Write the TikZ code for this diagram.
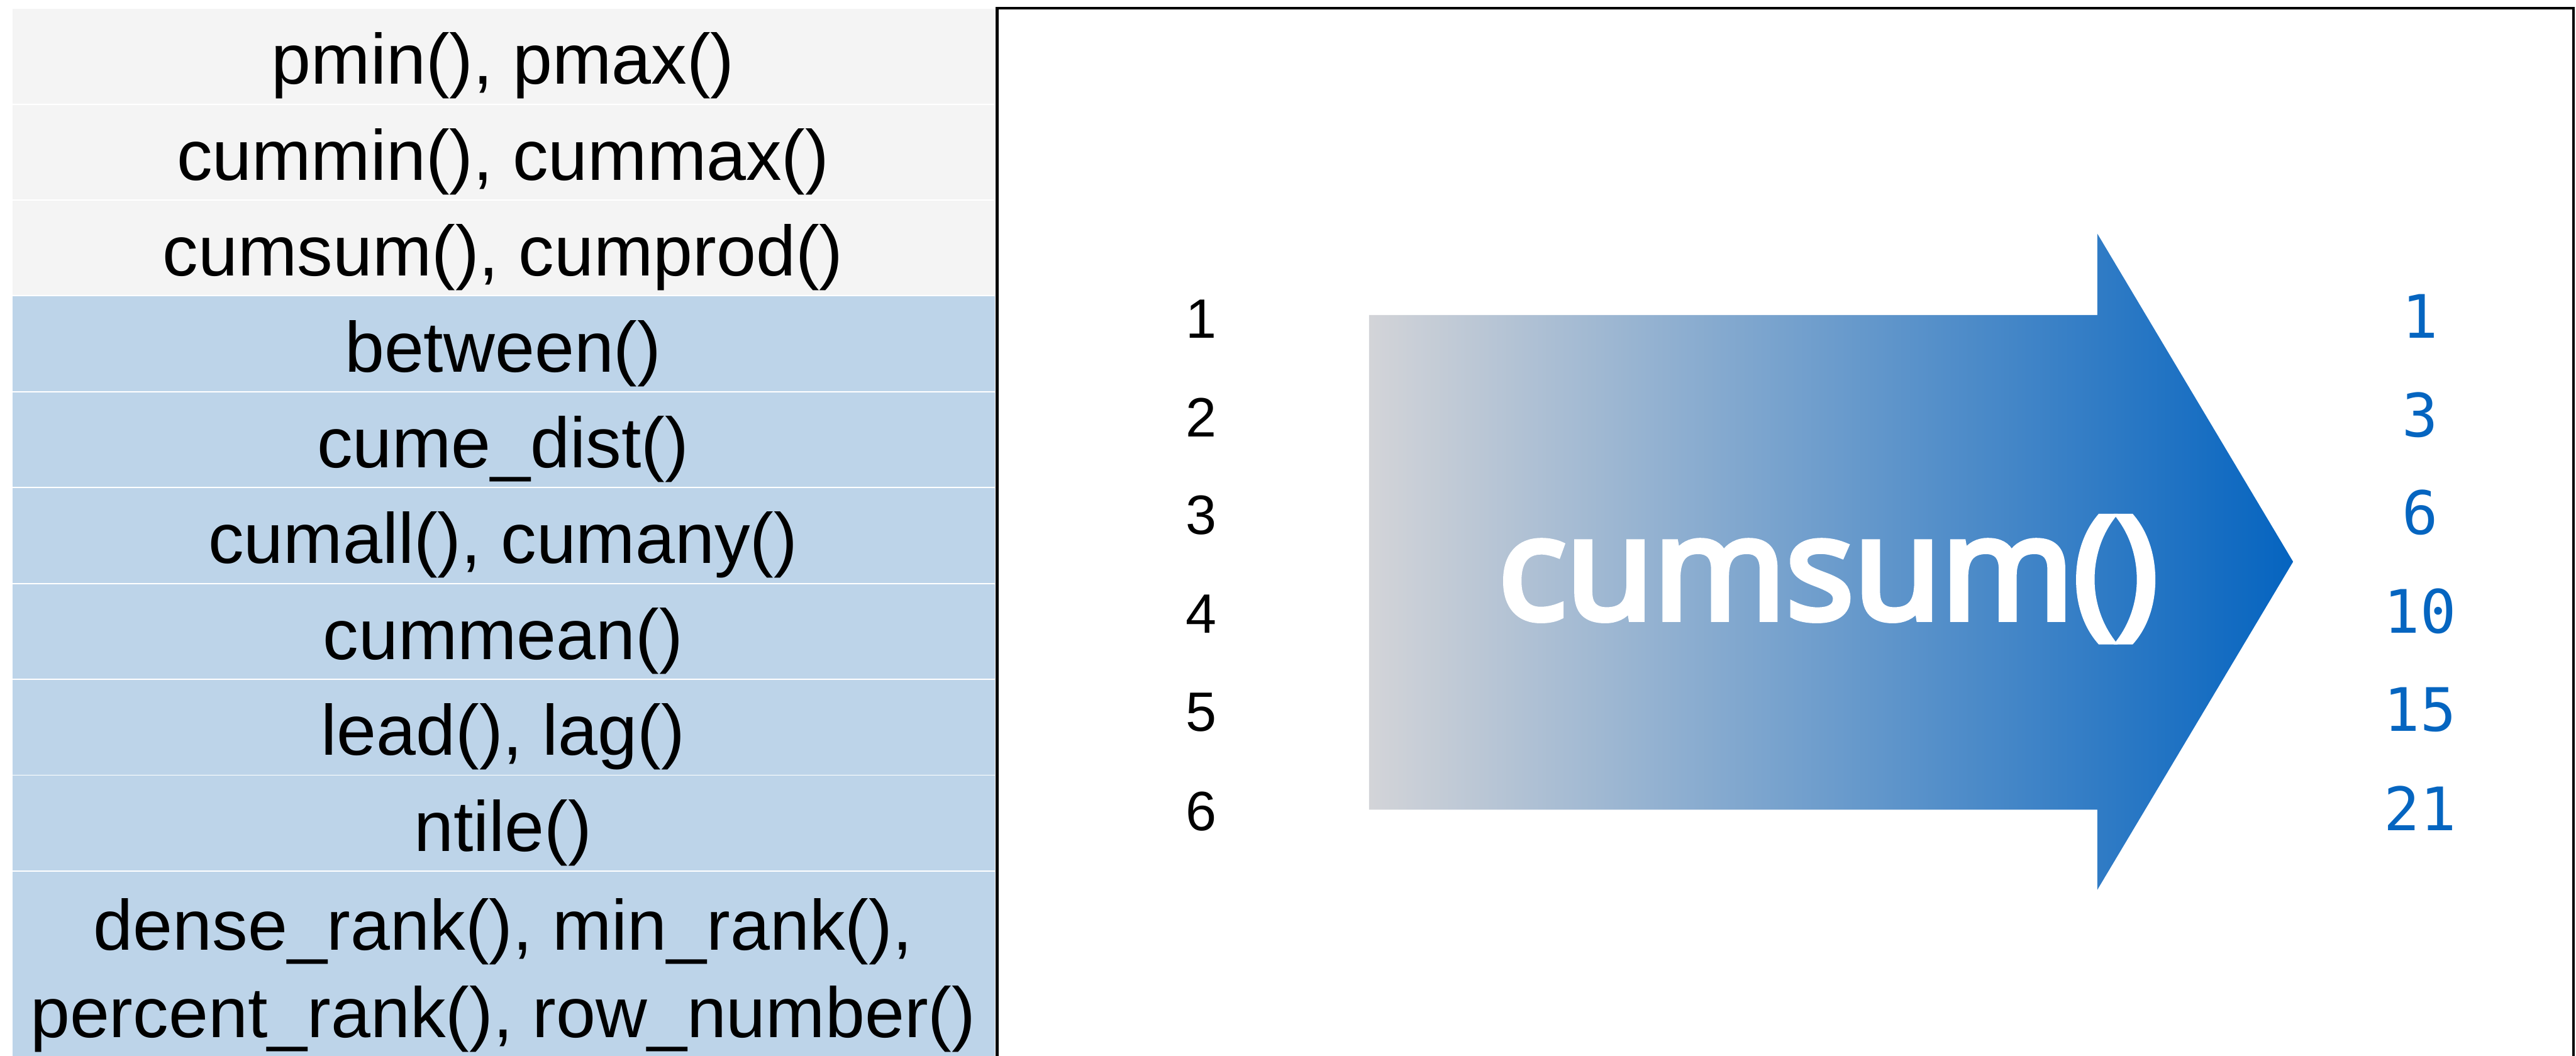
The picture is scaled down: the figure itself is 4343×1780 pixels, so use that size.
\documentclass[tikz,border=0pt]{standalone}
\usepackage{fontspec}
\setmainfont{Liberation Sans}
\newfontfamily\monofont{DejaVu Sans Mono}
\newfontfamily\titlefont{Open Sans}[FakeBold=4.5]
\definecolor{rowgray}{RGB}{244,244,244}
\definecolor{rowblue}{RGB}{189,212,233}
\definecolor{arrowgray}{RGB}{211,212,216}
\definecolor{arrowblue}{RGB}{5,100,192}
\definecolor{numblue}{RGB}{5,101,192}
\tikzset{
  rowbox/.style={draw=none, inner sep=0pt, minimum width=331.2pt, minimum height=31.92pt, anchor=north west},
  graybox/.style={rowbox, fill=rowgray},
  bluebox/.style={rowbox, fill=rowblue},
  fname/.style={anchor=base, inner sep=0pt, font=\fontsize{24}{29.4}\selectfont},
  innum/.style={anchor=base, inner sep=0pt, font=\fontsize{18.7}{22}\selectfont},
  outnum/.style={anchor=base, inner sep=0pt, text=numblue, font=\monofont\fontsize{20.2}{24}\selectfont},
  frameline/.style={line width=0.9pt, draw=black},
  bigtitle/.style={anchor=base, inner sep=0pt, text=white, font=\titlefont\fontsize{48}{55}\selectfont},
}
\begin{document}
\begin{tikzpicture}[x=0.2pt,y=-0.2pt]
\useasboundingbox (0,0) rectangle (4343,1780);
\clip (0,0) rectangle (4343,1780);
% table rows
\node[graybox] (r1) at (20,14) {};
\node[graybox] (r2) at (20,175.6) {};
\node[graybox] (r3) at (20,337.2) {};
\node[bluebox] (r4) at (20,498.8) {};
\node[bluebox] (r5) at (20,660.4) {};
\node[bluebox] (r6) at (20,822) {};
\node[bluebox] (r7) at (20,983.6) {};
\node[bluebox] (r8) at (20,1145.2) {};
\node[bluebox] (r9) at (20,1306.8) {};
\node[bluebox, minimum height=66pt] (r10) at (20,1468.4) {};
% table texts
\node[fname] (t1) at (848,142) {pmin(), pmax()};
\node[fname] (t2) at (848,303.6) {cummin(), cummax()};
\node[fname] (t3) at (848,465.2) {cumsum(), cumprod()};
\node[fname] (t4) at (848,626.8) {between()};
\node[fname] (t5) at (848,788.4) {cume\_dist()};
\node[fname] (t6) at (848,950) {cumall(), cumany()};
\node[fname] (t7) at (848,1111.6) {cummean()};
\node[fname] (t8) at (848,1273.2) {lead(), lag()};
\node[fname] (t9) at (848,1434.8) {ntile()};
\node[fname, anchor=center, align=center] (t10) at (848,1644) {dense\_rank(), min\_rank(),\\percent\_rank(), row\_number()};
% frame
\draw[frameline] (1681,1800) -- (1681,14) -- (4339,14) -- (4339,1800);
% arrow
\shade[left color=arrowgray, right color=arrowblue]
  (2308,531) -- (3536,531) -- (3536,394) -- (3866,947) -- (3536,1500) -- (3536,1365) -- (2308,1365) -- cycle;
\node[bigtitle] (title) at (3082,1043) {cumsum()};
% input numbers
\node[innum] (i1) at (2025,570) {1};
\node[innum] (i2) at (2025,736) {2};
\node[innum] (i3) at (2025,901) {3};
\node[innum] (i4) at (2025,1067) {4};
\node[innum] (i5) at (2025,1233) {5};
\node[innum] (i6) at (2025,1400) {6};
% output numbers
\node[outnum] (o1) at (4080,570) {1};
\node[outnum] (o2) at (4080,736) {3};
\node[outnum] (o3) at (4080,901) {6};
\node[outnum] (o4) at (4080,1067) {10};
\node[outnum] (o5) at (4080,1233) {15};
\node[outnum] (o6) at (4080,1400) {21};
\end{tikzpicture}
\end{document}
